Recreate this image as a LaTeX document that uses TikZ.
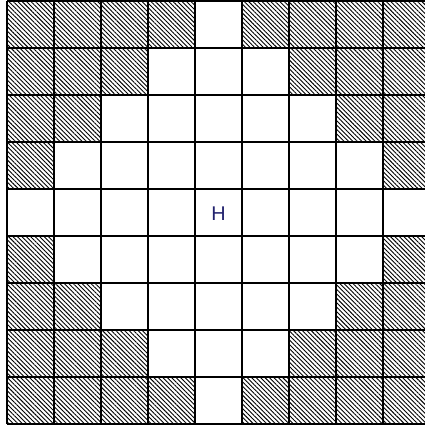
\documentclass[tikz,border=0pt]{standalone}
\usepackage{fontspec}
\setsansfont{Liberation Sans}
\usepackage{xcolor}
\usepackage{tikz}
\usetikzlibrary{patterns.meta}
\definecolor{hblue}{RGB}{34,34,110}
\tikzset{hatched/.style={pattern={Lines[angle=-45,distance=1.9pt,line width=0.55pt]}}}

\begin{document}
\begin{tikzpicture}
    \useasboundingbox (-0.149,-0.085) rectangle (8.872,9.015);
    \foreach \i in {0,...,8} {
        \foreach \j in {0,...,8} {
            \pgfmathtruncatemacro{\d}{abs(\i-4)+abs(\j-4)}
            \ifnum\d>4 \fill[hatched] (\i,\j) rectangle ++(1,1); \fi
        }
    }
    \draw[line width=1.1pt] (0,0) grid (9,9);
    \node[font=\sffamily\fontsize{12}{14}\selectfont, text=hblue, inner sep=0pt] (hcell) at (4.5,4.47) {H};
\end{tikzpicture}
\end{document}
